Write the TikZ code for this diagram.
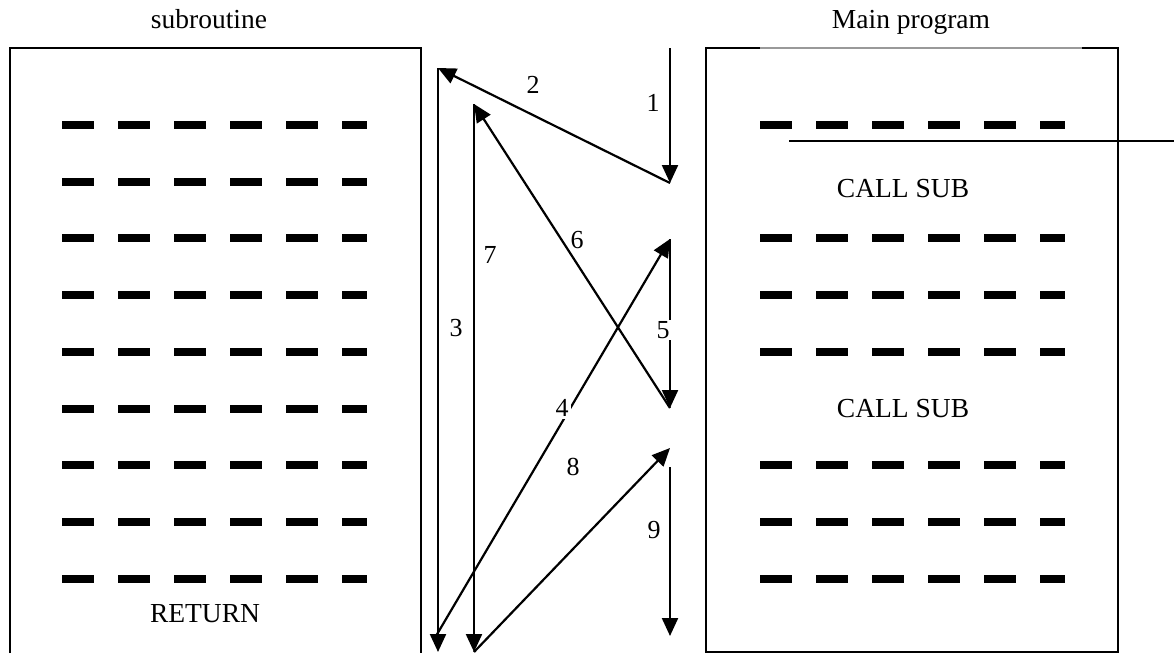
\documentclass[tikz,border=0pt]{standalone}
\usepackage{fontspec}
\setmainfont{Liberation Serif}
\usetikzlibrary{arrows.meta}

\begin{document}
\begin{tikzpicture}[x=1pt,y=-1pt,
			flow/.style={line width=2.2pt,-{Triangle[width=16pt,length=18pt]}},
			num/.style={inner sep=1pt,font=\fontsize{26}{31}\selectfont},
			txt/.style={anchor=base,font=\fontsize{27.5}{33}\selectfont},
			frame/.style={line width=2.2pt},
			bar/.style={line width=8pt,dash pattern=on 32pt off 24pt}
		]
		\useasboundingbox (0,0) rectangle (1174,653);

		% the two listings
		\draw[frame] (10,653) -- (10,48) -- (43,48);
		\draw[frame] (367,48) -- (421,48) -- (421,653);
		\draw[line width=1.2pt] (43,48) -- (367,48);
		\draw[frame] (760,48) -- (706,48) -- (706,652) -- (1118,652) -- (1118,48) -- (1082,48);
		\draw[line width=1.2pt,black!40] (760,48) -- (1082,48);

		\node[txt] (sub) at (209,28) {subroutine};
		\node[txt] (main) at (911,28) {Main program};

		% code lines
		\foreach \i in {0,...,8}
			\draw[bar] (62,{125+56.7*\i}) -- (367,{125+56.7*\i});
		\foreach \i in {0,2,3,4,6,7,8}
			\draw[bar] (760,{125+56.7*\i}) -- (1065,{125+56.7*\i});
		\draw[line width=1.4pt] (789,141) -- (1174,141);

		\node[txt] (ret) at (205,622) {RETURN};
		\node[txt] (call1) at (903,197) {CALL SUB};
		\node[txt] (call2) at (903,417) {CALL SUB};

		% control flow
		\coordinate (m0) at (670,48);
		\coordinate (m1) at (670,183);
		\coordinate (s1) at (438,68);
		\coordinate (s1e) at (438,652);
		\coordinate (s1r) at (436,636);
		\coordinate (m2) at (670,239);
		\coordinate (m3) at (670,408);
		\coordinate (s2) at (474,104);
		\coordinate (s2e) at (474,652);
		\coordinate (m4) at (670,448);
		\coordinate (m5) at (670,467);
		\coordinate (m6) at (670,636);

		\draw[flow] (m0) -- (m1);
		\draw[flow] (m1) -- (s1);
		\draw[flow] (s1) -- (s1e);
		\draw[flow] (s1r) -- (m2);
		\draw[flow] (m2) -- (m3);
		\draw[flow] (m3) -- (s2);
		\draw[flow] (s2) -- (s2e);
		\draw[flow] (s2e) -- (m4);
		\draw[flow] (m5) -- (m6);

		\node[num] (n1) at (653,103) {1};
		\node[num] (n2) at (533,85) {2};
		\node[num] (n3) at (456,328) {3};
		\node[num,fill=white,inner sep=2pt] (n4) at (562,408) {4};
		\node[num,fill=white] (n5) at (663,330) {5};
		\node[num] (n6) at (577,240) {6};
		\node[num] (n7) at (490,255) {7};
		\node[num] (n8) at (573,467) {8};
		\node[num] (n9) at (654,530) {9};

	\end{tikzpicture}
\end{document}
